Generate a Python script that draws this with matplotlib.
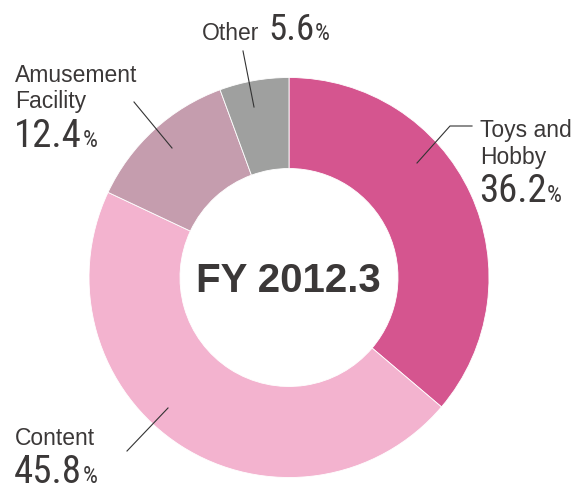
import numpy as np
import matplotlib
matplotlib.use('Agg')
import matplotlib.pyplot as plt

# Umsatzanteile nach Segment
segmente = ['Toys and\nHobby', 'Content', 'Amusement\nFacility', 'Other']
anteile = [36.2, 45.8, 12.4, 5.6]
farben = ['#d5558f', '#f3b3cf', '#c59dae', '#9fa09f']
titel = 'FY 2012.3'

W, H = 580, 486
textfarbe = '#3b3838'
schrift = ['Liberation Sans', 'DejaVu Sans']
schmal = ['Roboto Condensed', 'DejaVu Sans']

def py(y):
	# Pixelzeile von oben -> Datenkoordinate
	return H - y

fig = plt.figure(figsize=(W/100, H/100), dpi=100)
ax = fig.add_axes([0, 0, 1, 1])

ax.pie(anteile, colors=farben, startangle=90, counterclock=False,
	radius=200, center=(289, py(277.5)),
	wedgeprops=dict(width=91, edgecolor='white', linewidth=0.6))
ax.set_xlim(0, W)
ax.set_ylim(0, H)
ax.set_aspect('equal')
ax.axis('off')

ax.text(288, py(277.5), titel, ha='center', va='center_baseline',
	fontsize=29, fontweight='bold', color=textfarbe, family=schrift)

# Beschriftungen: (Name, x, Zeilen-Baselines, Wert-Baseline)
labels = [
	(segmente[0], 480, [137, 164], 202),
	(segmente[1], 15, [445], 483),
	(segmente[2], 15, [82, 108], 147),
]
werte = []
for (name, x, zeilen, ywert), wert in zip(labels, anteile[:3]):
	for zeile, yb in zip(name.split('\n'), zeilen):
		ax.text(x, py(yb), zeile, ha='left', va='baseline', fontsize=16.5,
			color=textfarbe, family=schrift)
	t = ax.text(x - 1, py(ywert), '%.1f' % wert, ha='left', va='baseline',
		fontsize=28, color=textfarbe, family=schmal)
	werte.append(t)

# Other: Name und Wert in einer Zeile
ax.text(202, py(40), 'Other', ha='left', va='baseline', fontsize=16.5,
	color=textfarbe, family=schrift)
t = ax.text(268, py(40), '%.1f' % anteile[3], ha='left', va='baseline',
	fontsize=26.5, color=textfarbe, family=schmal)
werte.append(t)

fig.canvas.draw()
r = fig.canvas.get_renderer()
for t in werte:
	bb = t.get_window_extent(r)
	ax.text(bb.x1 + 0.5, t.get_position()[1], '%', ha='left', va='baseline',
		fontsize=17, color=textfarbe, family=schmal)

# Hinweislinien
linien = [
	[(472, 126), (450, 126), (417, 163)],
	[(168, 408), (127, 451)],
	[(134, 102), (172, 148)],
	[(243, 51), (254, 107)],
]
for l in linien:
	xs, ys = zip(*l)
	ax.plot(xs, [py(y) for y in ys], color='#333333', lw=0.8)

fig.savefig('out.png', dpi=100)
